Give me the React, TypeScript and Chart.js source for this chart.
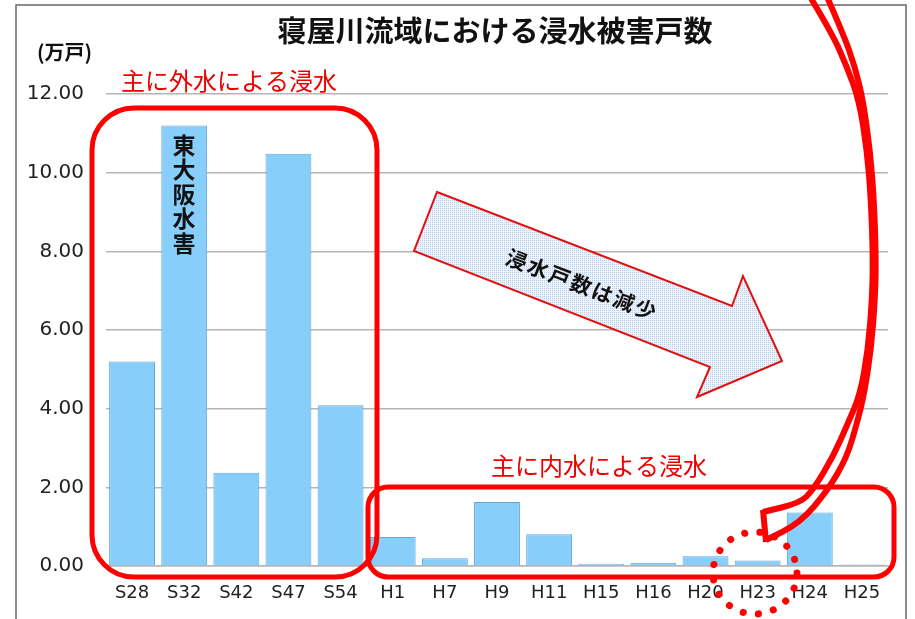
import React, { useEffect, useRef } from "react";
import { Chart, registerables } from "chart.js";

Chart.register(...registerables);

const categories = ["S28", "S32", "S42", "S47", "S54", "H1", "H7", "H9", "H11", "H15", "H16", "H20", "H23", "H24", "H25"];
const values = [5.2, 11.2, 2.37, 10.48, 4.09, 0.74, 0.2, 1.63, 0.81, 0.06, 0.08, 0.25, 0.14, 1.36, 0.04];
const yMin = 0;
const yMax = 12;
const yStep = 2;

const titleText = "寝屋川流域における浸水被害戸数";
const unitText = "(万戸)";
const outerText = "主に外水による浸水";
const innerText = "主に内水による浸水";
const eventText = ["東", "大", "阪", "水", "害"];
const arrowText = "浸水戸数は減少";

const JP = '"Noto Sans CJK JP", "Noto Sans", sans-serif';
const LAT = '"DejaVu Sans", Verdana, sans-serif';

function smoothPath(ctx: CanvasRenderingContext2D, pts: number[][]) {
  ctx.moveTo(pts[0][0], pts[0][1]);
  for (let i = 1; i < pts.length - 1; i++) {
    const mx = (pts[i][0] + pts[i + 1][0]) / 2;
    const my = (pts[i][1] + pts[i + 1][1]) / 2;
    ctx.quadraticCurveTo(pts[i][0], pts[i][1], mx, my);
  }
  const last = pts[pts.length - 1];
  ctx.lineTo(last[0], last[1]);
}

const decorPlugin = {
  id: "decor",
  beforeDraw(chart: any) {
    const ctx = chart.ctx as CanvasRenderingContext2D;
    ctx.save();
    ctx.fillStyle = "#ffffff";
    ctx.fillRect(0, 0, chart.width, chart.height);
    ctx.restore();
  },
  afterDraw(chart: any) {
    const ctx = chart.ctx as CanvasRenderingContext2D;
    ctx.save();

    // frame
    ctx.strokeStyle = "#666666";
    ctx.lineWidth = 1.5;
    ctx.strokeRect(16, 5, 890, 640);

    // title
    ctx.fillStyle = "#111111";
    ctx.textAlign = "center";
    ctx.textBaseline = "middle";
    ctx.font = `bold 29px ${JP}`;
    ctx.fillText(titleText, 495, 31);

    // unit
    ctx.font = `bold 20px ${JP}`;
    ctx.textAlign = "left";
    ctx.fillText(unitText, 37, 52);

    // red labels
    ctx.fillStyle = "#ee0000";
    ctx.font = `24px ${JP}`;
    ctx.textAlign = "left";
    ctx.fillText(outerText, 121, 81);
    ctx.fillText(innerText, 491, 466);

    // vertical event text inside S32 bar
    ctx.fillStyle = "#111111";
    ctx.font = `bold 23px ${JP}`;
    ctx.textAlign = "center";
    eventText.forEach((ch, i) => {
      ctx.fillText(ch, 184, 145 + i * 24.5);
    });

    // big arrow
    const pat = document.createElement("canvas");
    pat.width = 2;
    pat.height = 2;
    const pctx = pat.getContext("2d")!;
    pctx.fillStyle = "#eef4fb";
    pctx.fillRect(0, 0, 2, 2);
    pctx.fillStyle = "#b4cce8";
    pctx.fillRect(0, 0, 1, 1);
    const pattern = ctx.createPattern(pat, "repeat");
    ctx.beginPath();
    ctx.moveTo(437, 192);
    ctx.lineTo(732, 306);
    ctx.lineTo(743, 276);
    ctx.lineTo(782, 361);
    ctx.lineTo(697, 397);
    ctx.lineTo(710, 367);
    ctx.lineTo(414, 251);
    ctx.closePath();
    ctx.fillStyle = pattern || "#dde9f5";
    ctx.fill();
    ctx.strokeStyle = "#e01010";
    ctx.lineWidth = 2;
    ctx.stroke();

    ctx.save();
    ctx.translate(582, 285);
    ctx.rotate((21 * Math.PI) / 180);
    ctx.fillStyle = "#111111";
    ctx.font = `bold 21px ${JP}`;
    ctx.textAlign = "center";
    ctx.textBaseline = "middle";
    (ctx as any).letterSpacing = "2px";
    ctx.fillText(arrowText, 0, 0);
    ctx.restore();

    // red rounded rectangles
    ctx.strokeStyle = "#ff0000";
    ctx.lineWidth = 5;
    ctx.beginPath();
    ctx.roundRect(92, 108, 285, 469, 42);
    ctx.stroke();
    ctx.beginPath();
    ctx.roundRect(368, 487, 526, 90, 20);
    ctx.stroke();

    // curved hollow arrow
    ctx.lineWidth = 6;
    ctx.lineJoin = "round";
    ctx.lineCap = "butt";
    ctx.beginPath();
    smoothPath(ctx, [
      [806, -10],
      [832, 33],
      [847, 67],
      [859, 100],
      [867, 150],
      [871, 200],
      [873, 260],
      [872, 300],
      [868, 350],
      [860, 395],
      [848, 423],
      [833, 457],
      [813, 490],
      [800, 503],
      [763, 512],
    ]);
    ctx.stroke();
    ctx.beginPath();
    smoothPath(ctx, [
      [824, -10],
      [843, 33],
      [855, 67],
      [863, 100],
      [870, 150],
      [874, 200],
      [876, 260],
      [875, 300],
      [871, 350],
      [864, 395],
      [857, 423],
      [847, 457],
      [828, 490],
      [800, 523],
      [766, 540],
    ]);
    ctx.stroke();
    ctx.beginPath();
    ctx.moveTo(763, 510);
    ctx.lineTo(766, 542);
    ctx.stroke();

    // dotted ellipse
    ctx.beginPath();
    ctx.setLineDash([0.1, 15.3]);
    ctx.lineCap = "round";
    ctx.lineWidth = 7;
    ctx.ellipse(755, 573, 42, 41, 0, 0, Math.PI * 2);
    ctx.stroke();
    ctx.setLineDash([]);

    ctx.restore();
  },
};

export default function App() {
  const ref = useRef<HTMLCanvasElement | null>(null);

  useEffect(() => {
    if (!ref.current) return;
    const chart = new Chart(ref.current, {
      type: "bar",
      data: {
        labels: categories,
        datasets: [
          {
            data: values,
            backgroundColor: "#87cefa",
            borderColor: "#5fa8d8",
            borderWidth: 1,
            barPercentage: 0.88,
            categoryPercentage: 1.0,
          },
        ],
      },
      options: {
        responsive: false,
        animation: false,
        devicePixelRatio: 1,
        layout: { padding: { left: 0, right: 27, top: 94, bottom: 0 } },
        plugins: {
          legend: { display: false },
          title: { display: false },
          tooltip: { enabled: false },
        },
        scales: {
          x: {
            grid: { display: false, drawTicks: false },
            border: { display: true, color: "#b5b5b5", width: 1.5 },
            ticks: {
              color: "#222222",
              font: { family: LAT, size: 18 },
              padding: 17,
              maxRotation: 0,
              autoSkip: false,
            },
            afterFit: (scale: any) => {
              scale.height = 53;
            },
          },
          y: {
            min: yMin,
            max: yMax,
            border: { display: false },
            grid: { color: "#b5b5b5", lineWidth: 1.5, drawTicks: false },
            ticks: {
              stepSize: yStep,
              color: "#222222",
              font: { family: LAT, size: 20 },
              padding: 22,
              callback: (v: any) => Number(v).toFixed(2),
            },
            afterFit: (scale: any) => {
              scale.width = 106;
            },
          },
        },
      },
      plugins: [decorPlugin],
    });
    return () => chart.destroy();
  }, []);

  return (
    <div style={{ position: "fixed", left: 0, top: 0, width: 915, height: 619, background: "#fff" }}>
      <canvas ref={ref} width={915} height={619} style={{ display: "block" }} />
    </div>
  );
}
